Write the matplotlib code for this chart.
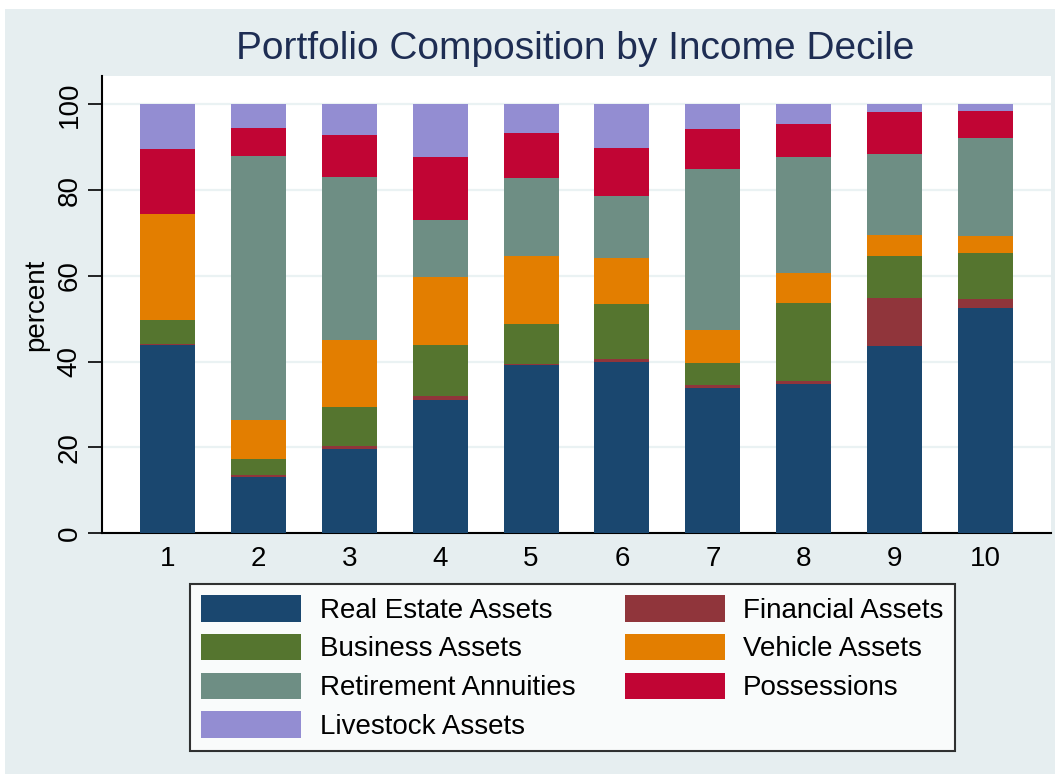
import numpy as np
import matplotlib
matplotlib.use("Agg")
from matplotlib import pyplot as plt
from matplotlib.patches import Rectangle

plt.rcParams['font.family'] = ['Liberation Sans', 'DejaVu Sans']

deciles = ['1', '2', '3', '4', '5', '6', '7', '8', '9', '10']

real_estate = [43.8, 13.1, 19.7, 31.0, 39.1, 40.0, 33.9, 34.8, 43.6, 52.6]
financial = [0.4, 0.4, 0.7, 0.9, 0.4, 0.6, 0.6, 0.7, 11.2, 1.9]
business = [5.6, 3.8, 8.9, 11.9, 9.3, 12.9, 5.2, 18.2, 9.8, 10.8]
vehicle = [24.5, 9.1, 15.8, 15.9, 15.7, 10.7, 7.6, 6.9, 4.9, 4.0]
retirement = [0.0, 61.6, 38.0, 13.3, 18.4, 14.5, 37.5, 27.0, 18.8, 22.9]
possessions = [15.2, 6.4, 9.7, 14.6, 10.3, 11.1, 9.4, 7.7, 9.9, 6.3]
livestock = [10.5, 5.6, 7.2, 12.4, 6.8, 10.2, 5.8, 4.7, 1.8, 1.5]

series = [
    ('Real Estate Assets', real_estate, '#1a476f'),
    ('Financial Assets', financial, '#90353b'),
    ('Business Assets', business, '#55752f'),
    ('Vehicle Assets', vehicle, '#e37e00'),
    ('Retirement Annuities', retirement, '#6e8e84'),
    ('Possessions', possessions, '#c10534'),
    ('Livestock Assets', livestock, '#938dd2'),
]

bg = '#e6eef0'

fig = plt.figure(figsize=(10.55, 7.74), dpi=100, facecolor='white')
fig.patches.append(Rectangle((5 / 1055, 0), 1, 1 - 9 / 774, transform=fig.transFigure,
                             facecolor=bg, edgecolor='none', zorder=-10))

ax = fig.add_axes([102 / 1055, 241 / 774, 949 / 1055, 457 / 774])
ax.set_facecolor('white')

x = np.arange(1, len(deciles) + 1)
bottom = np.zeros(len(deciles))
handles = {}
for name, vals, col in series:
    vals = np.array(vals)
    b = ax.bar(x, vals, width=0.606, bottom=bottom, color=col, linewidth=0, label=name, zorder=3)
    handles[name] = b
    bottom += vals

ax.set_xlim(0.28, 10.72)
ax.set_ylim(0, 106.6)
ax.set_yticks([0, 20, 40, 60, 80, 100])
ax.set_xticks(x)
ax.set_xticklabels(deciles)
ax.grid(axis='y', color='#eaf2f3', linewidth=1.6, zorder=0)
ax.tick_params(axis='y', labelsize=20, length=10, width=1.2, rotation=90, pad=4)
ax.tick_params(axis='x', labelsize=20, length=0, pad=9)
for lab in ax.get_yticklabels():
    lab.set_va('center')
for s in ['top', 'right']:
    ax.spines[s].set_visible(False)
ax.spines['left'].set_linewidth(1.5)
ax.spines['bottom'].set_linewidth(1.5)
ax.set_ylabel('percent', fontsize=20)
ax.yaxis.set_label_coords(-0.056, 0.5)

fig.text(0.545, 0.937, 'Portfolio Composition by Income Decile', ha='center', va='center',
         fontsize=28, color='#1e2d53')

order = ['Real Estate Assets', 'Business Assets', 'Retirement Annuities', 'Livestock Assets',
         'Financial Assets', 'Vehicle Assets', 'Possessions']
leg = ax.legend([handles[n] for n in order], order, ncol=2, loc='center',
                bbox_to_anchor=(572.5 / 1055, 106.5 / 774), bbox_transform=fig.transFigure,
                fontsize=20, frameon=True, fancybox=False, edgecolor='black',
                handlelength=3.6, handleheight=1.1, handletextpad=0.65,
                columnspacing=1.8, labelspacing=0.36, borderpad=0.4, borderaxespad=0)
leg.get_frame().set_linewidth(1.5)

fig.savefig('out.png', dpi=100, facecolor=fig.get_facecolor())
